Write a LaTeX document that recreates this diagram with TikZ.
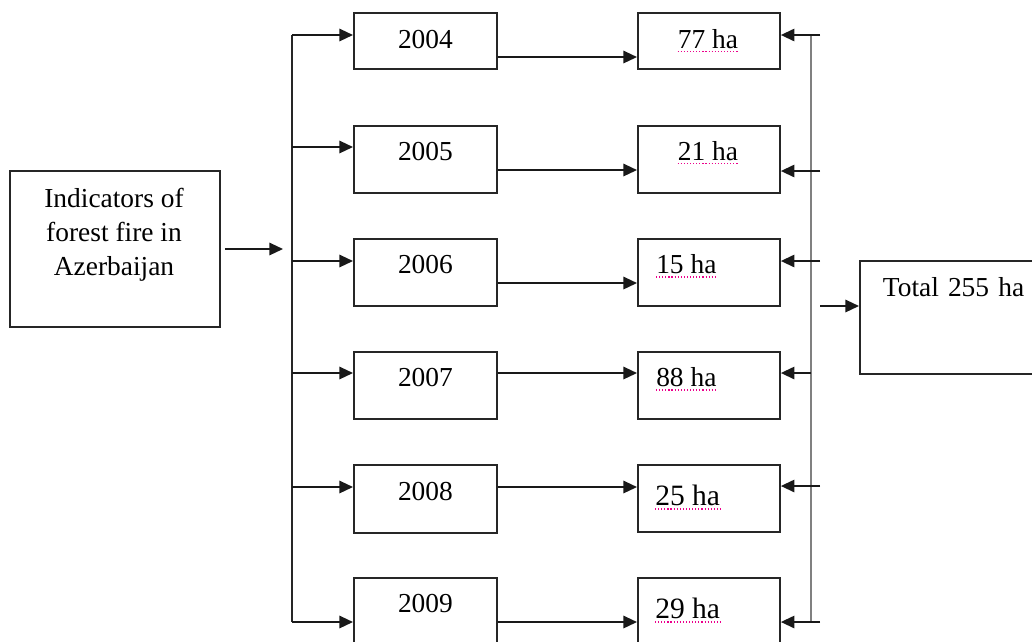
\documentclass[tikz,border=0pt]{standalone}
\usepackage{fontspec}
\setmainfont{Liberation Serif}
\usepackage{tikz}
\usetikzlibrary{arrows.meta,positioning}
\tikzset{box node/.style={rectangle, draw=black!85, line width=1.3pt, inner sep=0pt}}
\tikzset{year node/.style={box node, anchor=north west, minimum width=3.575cm,
    text height=0.875cm, text depth=0.8cm}}
\tikzset{area node/.style={year node, minimum width=3.55cm}}
\tikzset{area label/.style={inner sep=0pt}}
\tikzset{regular edge/.style={draw=black!90, line width=1.3pt,
    -{Triangle[length=0.34cm,width=0.31cm]}}}
\tikzset{bus line/.style={draw=black!85, line width=1.3pt}}
\tikzset{spell mark/.style={draw=magenta, line width=0.9pt, dash pattern=on 0.8pt off 1.4pt}}

\begin{document}
\begin{tikzpicture}
      [x=0.025cm, y=-0.025cm, font=\fontsize{19.5}{24.2}\selectfont]
      \useasboundingbox (0,0) rectangle (1032,641);

      % source
      \node [box node, anchor=north west, minimum width=5.25cm, minimum height=3.9cm] (ind) at (9, 170) {};
      \node [area label, anchor=north, align=center] (indtext) at (114, 188) {Indicators of\\forest fire in\\Azerbaijan};
      \coordinate (split) at (283, 249);
      \draw [regular edge, shorten <=0.1cm] (ind.east |- split) to (split);

      % years
      \node [year node, text height=0.9cm, text depth=0.5cm] (y2004) at (353,  12) {2004};
      \node [year node]                                      (y2005) at (353, 125) {2005};
      \node [year node]                                      (y2006) at (353, 238) {2006};
      \node [year node]                                      (y2007) at (353, 351) {2007};
      \node [year node, text height=0.9cm]                   (y2008) at (353, 464) {2008};
      \node [year node]                                      (y2009) at (353, 577) {2009};

      \coordinate (in2004) at (292,  35);
      \coordinate (in2005) at (292, 147);
      \coordinate (in2006) at (292, 261);
      \coordinate (in2007) at (292, 373);
      \coordinate (in2008) at (292, 487);
      \coordinate (in2009) at (292, 622);

      \draw [bus line]      (in2004) to (in2009);
      \draw [regular edge]  (in2004) to (in2004 -| y2004.west);
      \draw [regular edge]  (in2005) to (in2005 -| y2005.west);
      \draw [regular edge]  (in2006) to (in2006 -| y2006.west);
      \draw [regular edge]  (in2007) to (in2007 -| y2007.west);
      \draw [regular edge]  (in2008) to (in2008 -| y2008.west);
      \draw [regular edge]  (in2009) to (in2009 -| y2009.west);

      % burnt areas
      \node [area node, text height=0.9cm, text depth=0.5cm] (a2004) at (637,  12) {};
      \node [area node]                                      (a2005) at (637, 125) {};
      \node [area node]                                      (a2006) at (637, 238) {};
      \node [area node]                                      (a2007) at (637, 351) {};
      \node [area node]                                      (a2008) at (637, 464) {};
      \node [area node]                                      (a2009) at (637, 577) {};

      \node [area label, anchor=base]      (l2004) at (708,  48) {77 ha};
      \node [area label, anchor=base]      (l2005) at (708, 160) {21 ha};
      \node [area label, anchor=base west] (l2006) at (656, 273) {15 ha};
      \node [area label, anchor=base west] (l2007) at (656, 386) {88 ha};
      \node [area label, anchor=base west, font=\fontsize{21}{26}\selectfont] (l2008) at (655, 505) {25 ha};
      \node [area label, anchor=base west, font=\fontsize{21}{26}\selectfont] (l2009) at (655, 618) {29 ha};

      \draw [spell mark] ([yshift=-0.08cm]l2004.base west) to ([yshift=-0.08cm]l2004.base east);
      \draw [spell mark] ([yshift=-0.08cm]l2005.base west) to ([yshift=-0.08cm]l2005.base east);
      \draw [spell mark] ([yshift=-0.1cm]l2006.base west)  to ([yshift=-0.1cm]l2006.base east);
      \draw [spell mark] ([yshift=-0.1cm]l2007.base west)  to ([yshift=-0.1cm]l2007.base east);
      \draw [spell mark] ([yshift=-0.1cm]l2008.base west)  to ([yshift=-0.1cm]l2008.base east);
      \draw [spell mark] ([yshift=-0.1cm]l2009.base west)  to ([yshift=-0.1cm]l2009.base east);

      \draw [regular edge]  ([yshift=-1.125cm]y2004.north east) to ([yshift=-1.125cm]a2004.north west);
      \draw [regular edge]  ([yshift=-1.125cm]y2005.north east) to ([yshift=-1.125cm]a2005.north west);
      \draw [regular edge]  ([yshift=-1.125cm]y2006.north east) to ([yshift=-1.125cm]a2006.north west);
      \draw [regular edge]  ([yshift=-0.55cm]y2007.north east)  to ([yshift=-0.55cm]a2007.north west);
      \draw [regular edge]  ([yshift=-0.575cm]y2008.north east) to ([yshift=-0.575cm]a2008.north west);
      \draw [regular edge]  ([yshift=-1.125cm]y2009.north east) to ([yshift=-1.125cm]a2009.north west);

      % collecting bus
      \coordinate (rtop)    at (811,  35);
      \coordinate (rbot)    at (811, 622);
      \coordinate (out2004) at (820,  35);
      \coordinate (out2005) at (820, 171);
      \coordinate (out2006) at (820, 261);
      \coordinate (out2007) at (811, 373);
      \coordinate (out2008) at (820, 486);
      \coordinate (out2009) at (820, 622);

      \draw [bus line, draw=black!50] (rtop) to (rbot);
      \draw [regular edge]  (out2004) to (out2004 -| a2004.east);
      \draw [regular edge]  (out2005) to (out2005 -| a2005.east);
      \draw [regular edge]  (out2006) to (out2006 -| a2006.east);
      \draw [regular edge]  (out2007) to (out2007 -| a2007.east);
      \draw [regular edge]  (out2008) to (out2008 -| a2008.east);
      \draw [regular edge]  (out2009) to (out2009 -| a2009.east);

      % total
      \node [box node, anchor=north west, inner xsep=0.575cm, text width=5cm, align=left,
             text height=0.9cm, text depth=1.925cm] (total) at (859, 260) {Total 255 ha};
      \coordinate (tin) at (820, 306);
      \draw [regular edge]  (tin) to (tin -| total.west);
\end{tikzpicture}
\end{document}
